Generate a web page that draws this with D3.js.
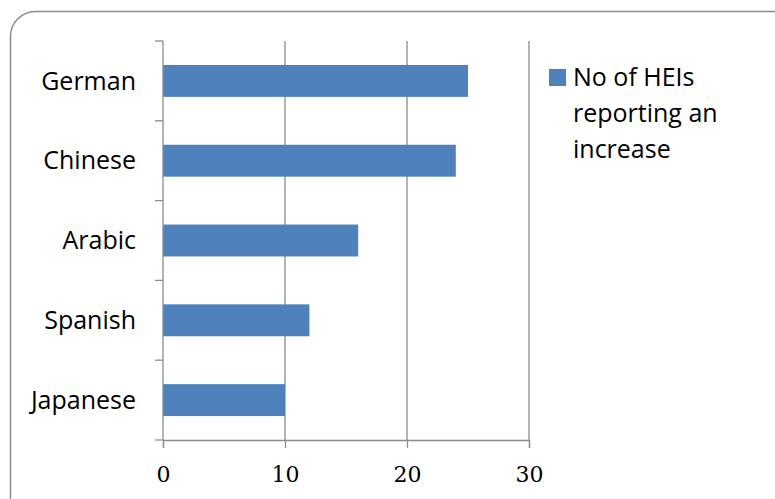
<!DOCTYPE html>
<html>
<head>
<meta charset="utf-8">
<script src="https://cdn.jsdelivr.net/npm/d3@7"></script>
<style>
  body { margin: 0; background: #fff; }
  .cat text { font-family: "Open Sans", sans-serif; font-size: 25px; fill: #000; }
  .legend text { font-family: "Open Sans", sans-serif; font-size: 25px; fill: #000; }
</style>
</head>
<body>
<svg width="775" height="499"></svg>
<script>
// data
var languages = ["German", "Chinese", "Arabic", "Spanish", "Japanese"];
var increases = [25, 24, 16, 12, 10];
var xTicks = [0, 10, 20, 30];
var seriesName = ["No of HEIs", "reporting an", "increase"];

var margin = {top: 41, left: 163};
var width = 366;   // 0..30
var height = 399;

var svg = d3.select("svg");

// outer frame, rounded corner top-left, right/bottom run off the page
svg.append("rect")
    .attr("x", 10.5).attr("y", 11.5)
    .attr("width", 820).attr("height", 560)
    .attr("rx", 25).attr("ry", 25)
    .attr("fill", "none")
    .attr("stroke", "#8c8c8c")
    .attr("stroke-width", 1.5);

var g = svg.append("g")
    .attr("transform", "translate(" + margin.left + "," + margin.top + ")");

var xScale = d3.scaleLinear()
    .domain([0, 30])
    .range([0, width]);

var yScale = d3.scaleBand()
    .domain(languages)
    .range([0, height])
    .paddingInner(0.6)
    .paddingOuter(0.3);

// vertical gridlines
g.selectAll(".grid")
    .data(xTicks.slice(1))
  .enter().append("line")
    .attr("class", "grid")
    .attr("x1", function(d) { return xScale(d); })
    .attr("x2", function(d) { return xScale(d); })
    .attr("y1", 0).attr("y2", height)
    .attr("stroke", "#8c8c8c")
    .attr("stroke-width", 1.3);

// bars
g.selectAll(".bar")
    .data(increases)
  .enter().append("rect")
    .attr("class", "bar")
    .attr("x", xScale(0))
    .attr("y", function(d, i) { return yScale(languages[i]); })
    .attr("width", function(d) { return xScale(d) - xScale(0); })
    .attr("height", yScale.bandwidth())
    .attr("fill", "#4f81bd");

// y axis: ticks between categories
var yAxis = g.append("g").attr("class", "cat");
yAxis.append("line")
    .attr("x1", 0).attr("x2", 0)
    .attr("y1", 0).attr("y2", height)
    .attr("stroke", "#8c8c8c").attr("stroke-width", 1.3);
yAxis.selectAll(".tk")
    .data(d3.range(languages.length + 1))
  .enter().append("line")
    .attr("x1", -8).attr("x2", 0)
    .attr("y1", function(d) { return d * height / languages.length; })
    .attr("y2", function(d) { return d * height / languages.length; })
    .attr("stroke", "#8c8c8c").attr("stroke-width", 1.3);
yAxis.selectAll("text")
    .data(languages)
  .enter().append("text")
    .attr("x", -27)
    .attr("y", function(d) { return yScale(d) + yScale.bandwidth() / 2; })
    .attr("dy", "0.35em")
    .attr("text-anchor", "end")
    .text(function(d) { return d; });

// x axis
var xAxis = g.append("g")
    .attr("transform", "translate(0," + height + ")")
    .call(d3.axisBottom(xScale).tickValues(xTicks).tickSize(8).tickPadding(18));
xAxis.select(".domain").attr("stroke", "#8c8c8c").attr("stroke-width", 1.3);
xAxis.selectAll(".tick line").attr("stroke", "#8c8c8c").attr("stroke-width", 1.3);
xAxis.selectAll("text")
    .attr("fill", "#000")
    .style("font-size", "22px")
    .style("font-family", "DejaVu Serif, serif");

// legend
var legend = svg.append("g").attr("class", "legend");
legend.append("rect")
    .attr("x", 549).attr("y", 69)
    .attr("width", 17).attr("height", 17)
    .attr("fill", "#4f81bd");
legend.selectAll("text")
    .data(seriesName)
  .enter().append("text")
    .attr("x", 573)
    .attr("y", function(d, i) { return 86 + i * 36; })
    .text(function(d) { return d; });
</script>
</body>
</html>
